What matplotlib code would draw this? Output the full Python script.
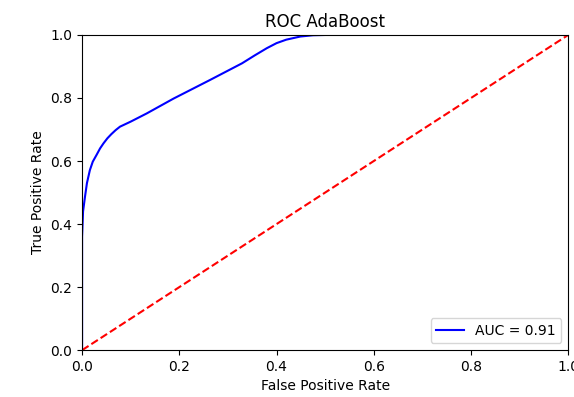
import matplotlib
matplotlib.use("Agg")
import matplotlib.pyplot as plt

# ROC curve points
fpr = [0.0, 0.0, 0.002, 0.006, 0.010, 0.016, 0.022, 0.030, 0.037, 0.044, 0.052,
       0.060, 0.069, 0.078, 0.100, 0.133, 0.188, 0.263, 0.329, 0.355, 0.380,
       0.400, 0.420, 0.449, 0.475, 0.503, 0.6, 0.8, 1.0]
tpr = [0.0, 0.36, 0.44, 0.487, 0.530, 0.571, 0.598, 0.620, 0.640, 0.656, 0.672,
       0.685, 0.698, 0.709, 0.725, 0.751, 0.798, 0.857, 0.910, 0.935, 0.958,
       0.974, 0.985, 0.995, 0.999, 1.0, 1.0, 1.0, 1.0]
roc_auc = 0.91


def plot_roc():
    fig = plt.figure(figsize=(5.74, 3.97), dpi=100)
    ax = fig.add_axes([0.143, 0.118, 0.847, 0.794])
    ax.plot(fpr, tpr, 'b', label='AUC = %0.2f' % roc_auc)
    ax.plot([0, 1], [0, 1], 'r--')
    ax.legend(loc='lower right')
    ax.set_xlim([0, 1])
    ax.set_ylim([0, 1])
    ax.set(xlabel='False Positive Rate', ylabel='True Positive Rate',
           title='ROC AdaBoost')
    fig.savefig("out.png", dpi=100)


if __name__ == "__main__":
    plot_roc()
